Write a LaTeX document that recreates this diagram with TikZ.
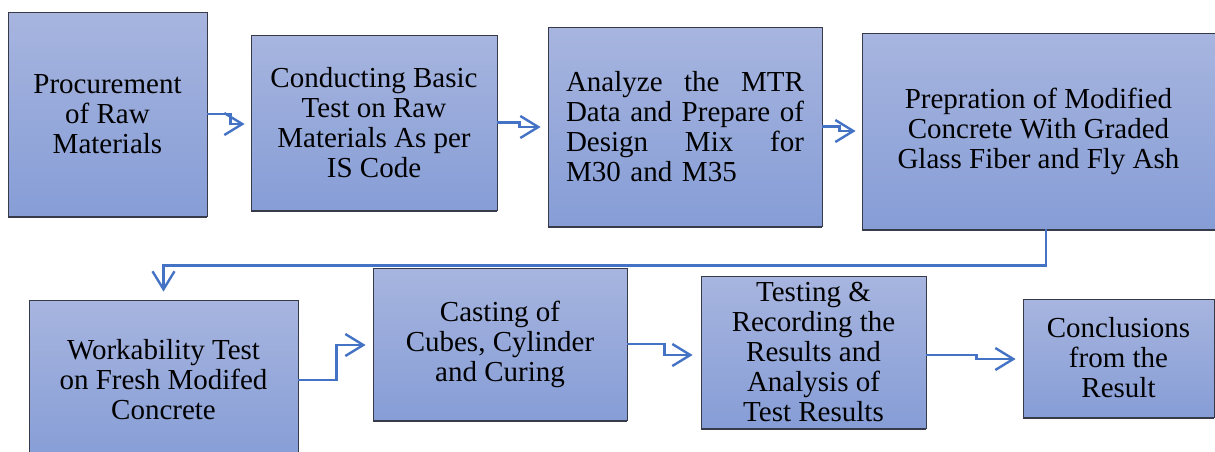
\documentclass[tikz,border=0pt]{standalone}
\usepackage{fontspec}
\setmainfont{Liberation Serif}
\usetikzlibrary{arrows.meta,shadows}
\definecolor{arrblue}{HTML}{4472C4}
\definecolor{boxtop}{RGB}{167,181,223}
\definecolor{boxbot}{RGB}{134,157,214}
\definecolor{boxline}{RGB}{55,58,72}
\newcommand{\jline}[1]{\leavevmode\hbox to 238pt{#1}}
\begin{document}
\begin{tikzpicture}[x=1pt,y=-1pt,
  stepbox/.style={rectangle, draw=boxline, line width=0.8pt,
    top color=boxtop, bottom color=boxbot, align=center,
    font=\fontsize{29}{30}\selectfont, inner sep=0pt,
    drop shadow={shadow xshift=0pt, shadow yshift=-1.6pt, fill=boxline, opacity=1}},
  arr/.style={draw=arrblue, line width=2.4pt,
    -{Straight Barb[length=18pt,width=22pt,line width=2.4pt]}}]
\useasboundingbox (0,0) rectangle (1215,451);

\node[stepbox, minimum width=199pt, minimum height=204pt] (B1) at (107.5,114)
  {Procurement\\of Raw\\Materials};
\node[stepbox, minimum width=246pt, minimum height=175pt] (B2) at (374,122.5)
  {Conducting Basic\\Test on Raw\\Materials As per\\IS Code};
\node[stepbox, minimum width=274pt, minimum height=199pt, text width=238pt, align=left] (B3) at (685,126.5)
  {\jline{Analyze\hfill the\hfill MTR}\\\jline{Data\hfill and\hfill Prepare\hfill of}\\\jline{Design\hfill Mix\hfill for}\\M30 and M35};
\node[stepbox, minimum width=353pt, minimum height=196pt] (B4) at (1038.5,131)
  {Prepration of Modified\\Concrete With Graded\\Glass Fiber and Fly Ash};
\node[stepbox, minimum width=269pt, minimum height=160pt] (B5) at (163.5,380)
  {Workability Test\\on Fresh Modifed\\Concrete};
\node[stepbox, minimum width=254pt, minimum height=152pt] (B6) at (500,344)
  {Casting of\\Cubes, Cylinder\\and Curing};
\node[stepbox, minimum width=225pt, minimum height=152pt] (B7) at (813.5,352)
  {Testing \&\\Recording the\\Results and\\Analysis of\\Test Results};
\node[stepbox, minimum width=191pt, minimum height=118pt] (B8) at (1118.5,358)
  {Conclusions\\from the\\Result};

\draw[arr] (B1.east) -- ++(23,0) |- ([xshift=-6pt,yshift=-1.5pt]B2.west);
\draw[arr] (B2.east) -- ++(22,0) |- ([xshift=-7pt,yshift=-0.5pt]B3.west);
\draw[arr] (B3.east) -- ++(17,0) |- ([xshift=-6pt]B4.west);
\draw[arr] ([xshift=7.5pt]B4.south) -- ++(0,36) -| ([yshift=8pt]B5.north);
\draw[arr] (B5.east) -- ++(38,0) |- ([xshift=-7pt,yshift=-1pt]B6.west);
\draw[arr] (B6.east) -- ++(37,0) |- ([xshift=-8pt,yshift=-3pt]B7.west);
\draw[arr] ([yshift=-3pt]B7.east) -- ++(50,0) |- ([xshift=-7pt,yshift=-1pt]B8.west);
\end{tikzpicture}
\end{document}
